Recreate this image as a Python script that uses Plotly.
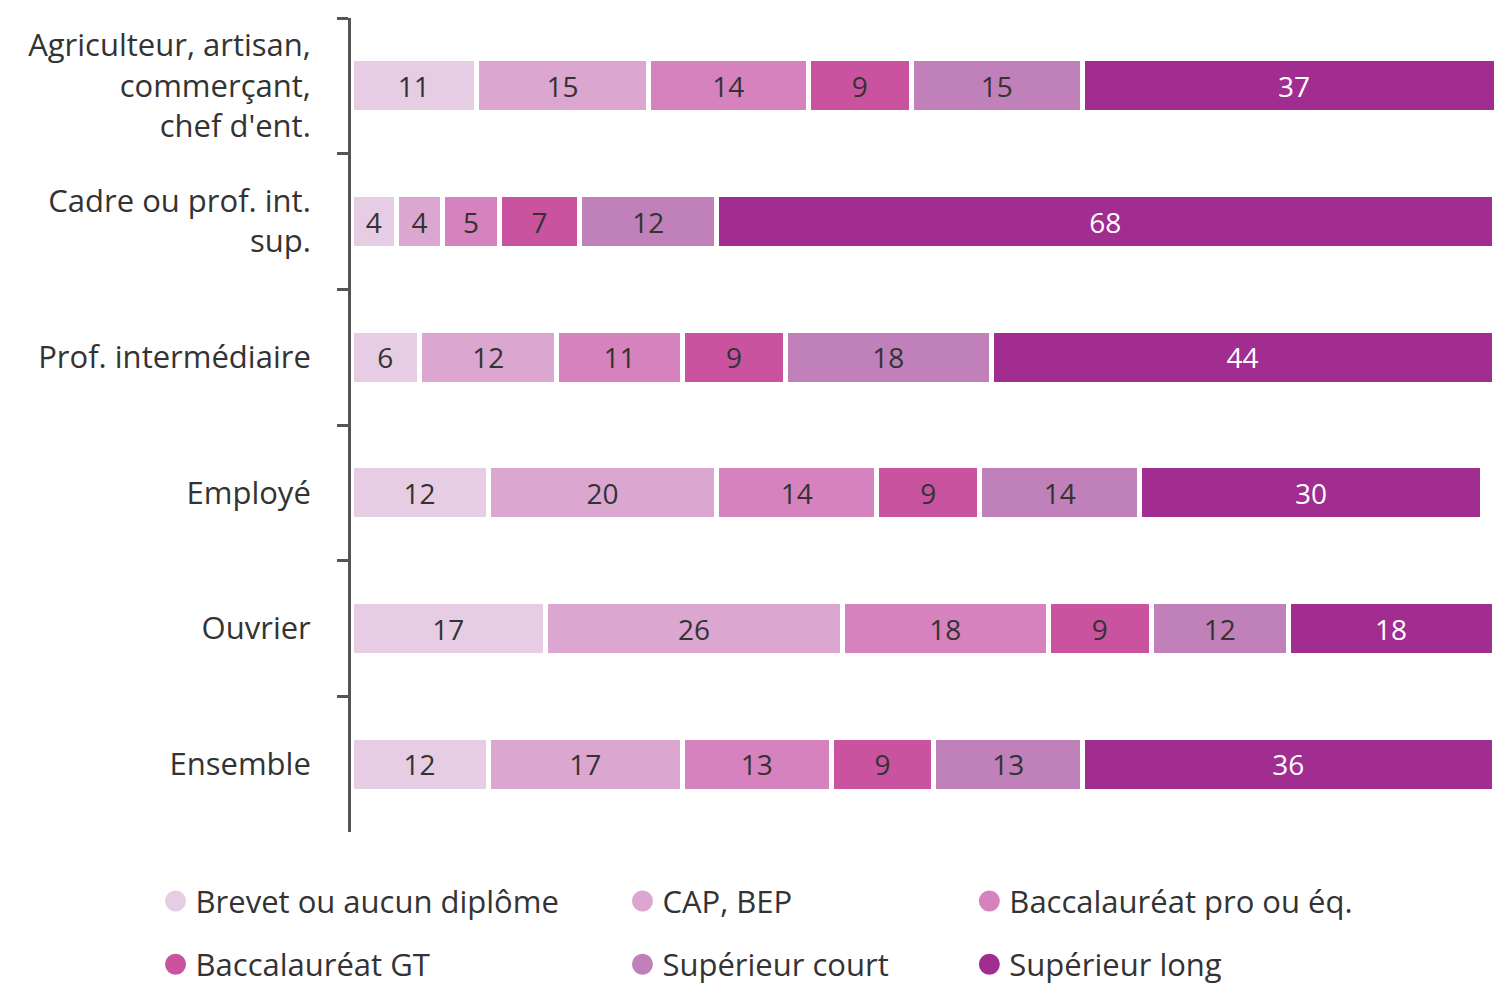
import plotly.graph_objects as go

categories = ["Agriculteur, artisan,<br>commerçant,<br>chef d'ent.",
              "Cadre ou prof. int.<br>sup.",
              "Prof. intermédiaire",
              "Employé",
              "Ouvrier",
              "Ensemble"]

series_names = ["Brevet ou aucun diplôme", "CAP, BEP", "Baccalauréat pro ou éq.",
                "Baccalauréat GT", "Supérieur court", "Supérieur long"]

brevet = [11, 4, 6, 12, 17, 12]
cap_bep = [15, 4, 12, 20, 26, 17]
bac_pro = [14, 5, 11, 14, 18, 13]
bac_gt = [9, 7, 9, 9, 9, 9]
sup_court = [15, 12, 18, 14, 12, 13]
sup_long = [37, 68, 44, 30, 18, 36]

values = [brevet, cap_bep, bac_pro, bac_gt, sup_court, sup_long]
colors = ["#e6cde4", "#dba6d0", "#d682be", "#c9539f", "#c080ba", "#a02d8f"]
text_colors = ["#333333"] * 5 + ["#ffffff"]

FONT = "Open Sans"

fig = go.Figure()
for name, vals, col, tcol in zip(series_names, values, colors, text_colors):
    fig.add_trace(go.Bar(
        y=categories, x=vals, orientation="h", name=name,
        marker=dict(color=col, line=dict(color="white", width=5)),
        text=vals, texttemplate="%{x}", textposition="inside",
        insidetextanchor="middle", textangle=0, constraintext="none",
        textfont=dict(family=FONT, size=28, color=tcol),
        showlegend=False, hoverinfo="skip",
    ))

# legend entries (circle markers), split into three columns
legend_cols = ["legend", "legend2", "legend3", "legend", "legend2", "legend3"]
for i, (name, col) in enumerate(zip(series_names, colors)):
    fig.add_trace(go.Scatter(
        x=[None], y=[None], mode="markers", name=name,
        marker=dict(color=col, size=30, symbol="circle", line=dict(color=col, width=6)),
        legend=legend_cols[i], legendgroup=name, showlegend=True,
    ))

leg_common = dict(orientation="v", yanchor="top", xanchor="left",
                  font=dict(family=FONT, size=31, color="#333333"),
                  tracegroupgap=20, bgcolor="rgba(0,0,0,0)", itemsizing="trace")

fig.update_layout(
    width=1494, height=988,
    margin=dict(l=351, r=0, t=18, b=156, autoexpand=False),
    paper_bgcolor="white", plot_bgcolor="white",
    barmode="stack", bargap=0.6,
    font=dict(family=FONT, size=30, color="#333333"),
    xaxis=dict(range=[0, 100], showgrid=False, zeroline=False, showticklabels=False,
               showline=False, fixedrange=True),
    yaxis=dict(autorange="reversed", showgrid=False, zeroline=False, fixedrange=True,
               showline=True, linecolor="#555555", linewidth=3,
               ticks="outside", tickson="boundaries", ticklen=11, tickwidth=3,
               tickcolor="#555555", ticklabelstandoff=31,
               tickfont=dict(family=FONT, size=31, color="#333333")),
    legend=dict(x=-0.171, y=-0.052, **leg_common),
    legend2=dict(x=0.2375, y=-0.052, **leg_common),
    legend3=dict(x=0.541, y=-0.052, **leg_common),
)

fig.write_html("out.html", config={"displayModeBar": False},
               post_script="document.body.style.margin='0px';")
